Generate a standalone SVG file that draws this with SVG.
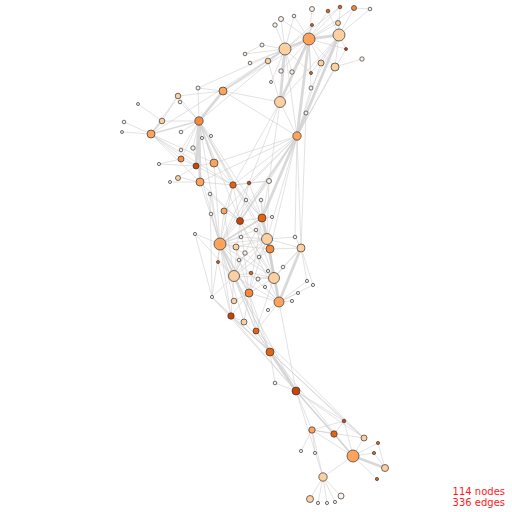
<svg xmlns="http://www.w3.org/2000/svg" width="512" height="512" viewBox="0 0 512 512">
<style>
.e{fill:none;stroke:#cfcfcf;stroke-opacity:0.75;stroke-width:0.8}
.em{fill:none;stroke:#cfcfcf;stroke-opacity:0.75;stroke-width:1.6}
.et{fill:none;stroke:#cfcfcf;stroke-opacity:0.8;stroke-width:2.8}
circle{stroke:#333;stroke-width:0.7}
.t{fill:#fdf1e6}
.l{fill:#fdd0a2}
.m{fill:#fda35c}
.o{fill:#f88a3a}
.d{fill:#e8620f}
.r{fill:#c94406}
text{font-family:"DejaVu Sans",Verdana,sans-serif;font-size:10px;fill:#ff1a1a;text-anchor:end}
</style>
<rect width="512" height="512" fill="#fff"/>
<g id="edges">
<path class="e" d="M312,9L309,39M328,11L309,39M328,11L339,35M340,7L339,35M340,7L309,39M340,7L285,49M354,8L339,35M354,8L309,39M354,8L370,9M370,9L339,35M294,16L285,49M294,16L309,39M281,19L285,49M281,19L309,39M275,25L285,49M338,23L339,35M338,23L309,39M312,25L309,39M312,25L285,49M262,45L285,49M245,54L285,49M250,63L285,49M268,61L285,49M268,61L280,102M346,49L339,35M346,49L309,39M321,63L309,39M321,63L339,35M335,67L339,35M335,67L309,39M335,67L362,59M335,67L297,136M281,71L285,49M292,72L285,49M292,72L309,39M311,73L309,39M311,73L285,49M271,82L285,49M311,88L309,39M311,88L339,35M311,88L297,136M306,113L339,35M306,113L297,136M280,102L297,136M280,102L223,91M285,49L198,88M285,49L151,134M285,49L199,121M309,39L223,91M339,35L280,102M339,35L311,73M285,49L297,136M321,63L297,136M346,49L297,136M280,102L269,181M280,102L233,185M280,102L249,183M262,45L245,54M309,39L281,71"/>
<path class="e" d="M198,88L223,91M198,88L199,121M178,96L223,91M178,96L199,121M178,96L151,134M178,96L162,121M180,102L199,121M138,104L162,121M162,121L199,121M124,122L151,134M122,132L151,134M151,134L181,159M151,134L196,166M151,134L200,182M151,134L214,163M181,132L199,121M211,136L199,121M202,138L199,121M193,148L199,121M193,148L220,244M181,150L199,121M181,159L199,121M181,159L196,166M196,166L214,163M196,166L233,185M214,163L199,121M214,163L233,185M214,163L220,244M159,164L196,166M159,164L181,159M178,177L200,182M178,177L196,166M170,182L200,182M200,182L233,185M200,182L220,244M200,182L240,221M223,91L297,136M199,121L233,185M199,121L220,244M199,121L240,221M199,121L262,218M297,136L233,185M297,136L214,163M297,136L200,182M297,136L220,244M297,136L267,239M297,136L249,183M297,136L269,181M297,136L224,211M297,136L301,248M297,136L295,237M297,136L270,249M306,113L301,248M199,121L267,239M199,121L270,249M151,134L233,185"/>
<path class="e" d="M233,185L249,183M233,185L269,181M233,185L240,221M233,185L220,244M233,185L262,218M233,185L224,211M249,183L269,181M249,183L240,221M249,183L262,218M269,181L262,218M269,181L267,239M210,194L220,244M210,194L240,221M246,200L262,218M246,200L220,244M261,200L262,218M261,200L267,239M224,211L220,244M224,211L240,221M211,214L220,244M240,221L220,244M240,221L262,218M240,221L267,239M240,221L234,276M240,221L249,293M262,218L220,244M262,218L270,249M262,218L234,276M272,217L262,218M256,230L267,239M256,230L220,244M195,234L220,244M195,234L234,276M241,237L220,244M241,237L267,239M220,244L236,247M220,244L267,239M220,244L270,249M220,244L274,278M220,244L279,302M220,244L245,253M220,244L218,262M220,244L231,316M220,244L212,297M220,244L244,322M220,244L256,331M236,247L267,239M267,239L270,249M267,239L301,248M267,239L295,237M267,239L234,276M267,239L279,302M267,239L249,293M270,249L301,248M270,249L274,278M270,249L279,302M270,249L234,276M295,237L301,248M301,248L307,281M301,248L313,285M301,248L274,278M301,248L283,267M245,253L234,276M239,260L234,276M239,260L267,239M259,257L274,278M259,257L267,239M283,267L274,278M234,276L274,278M234,276L231,316M234,276L279,302M234,276L256,331M251,273L234,276M251,273L274,278M268,271L274,278M274,278L279,302M274,278L249,293M274,278L256,331M258,279L274,278M258,279L249,293M307,281L279,302M313,285L279,302M265,287L279,302M249,293L279,302M249,293L231,316M249,293L244,322M249,293L256,331M298,293L279,302M234,301L249,293M234,301L220,244M212,297L234,276M212,297L231,316M292,301L279,302M279,302L268,310M279,302L256,331M279,302L296,391M231,316L244,322M231,316L270,352M231,316L296,391M244,322L270,352M256,331L270,352M256,331L296,391M220,244L270,352M234,276L270,352M234,276L296,391M212,297L296,391M249,293L270,352M240,221L274,278M262,218L249,293M210,194L212,297M195,234L212,297M218,262L234,276M218,262L231,316M240,221L279,302M249,183L220,244M269,181L240,221M224,211L234,276M256,230L274,278M245,253L274,278M236,247L249,293"/>
<path class="e" d="M270,352L275,383M275,383L296,391M296,391L344,421M296,391L312,430M296,391L334,434M296,391L364,438M270,352L353,456M296,391L323,477M256,331L364,438M212,297L344,421M231,316L364,438M344,421L312,430M344,421L334,434M344,421L353,456M344,421L364,438M312,430L334,434M312,430L353,456M312,430L364,438M312,430L301,451M312,430L315,453M312,430L323,477M334,434L353,456M364,438L353,456M378,443L353,456M378,443L385,468M374,453L353,456M374,453L385,468M353,456L377,479M353,456L323,477M323,477L310,499M323,477L318,503M323,477L327,503M323,477L335,502M323,477L341,496"/>
<path class="em" d="M285,49L223,91M199,121L151,134M151,134L162,121M199,121L214,163M297,136L240,221M220,244L234,276M220,244L249,293M267,239L274,278M296,391L353,456M220,244L262,218"/>
<path class="et" d="M309,39L280,102M309,39L297,136M339,35L297,136M285,49L280,102M309,39L339,35M309,39L285,49M199,121L223,91M199,121L196,166M199,121L200,182M297,136L262,218M270,352L296,391M353,456L385,468M279,302L301,248M262,218L267,239M267,239L279,302"/>
</g>
<g id="n1"><circle class="t" cx="312" cy="9" r="2.5"/></g>
<g id="n2"><circle class="d" cx="328" cy="11" r="1.8"/></g>
<g id="n3"><circle class="d" cx="340" cy="7" r="1.8"/></g>
<g id="n4"><circle class="o" cx="354" cy="8" r="2.5"/></g>
<g id="n5"><circle class="t" cx="370" cy="9" r="1.8"/></g>
<g id="n6"><circle class="t" cx="294" cy="16" r="1.8"/></g>
<g id="n7"><circle class="t" cx="281" cy="19" r="2.5"/></g>
<g id="n8"><circle class="t" cx="275" cy="25" r="2.2"/></g>
<g id="n9"><circle class="l" cx="338" cy="23" r="2.5"/></g>
<g id="n10"><circle class="m" cx="309" cy="39" r="6"/></g>
<g id="n11"><circle class="l" cx="339" cy="35" r="6"/></g>
<g id="n12"><circle class="l" cx="285" cy="49" r="6"/></g>
<g id="n13"><circle class="t" cx="262" cy="45" r="2"/></g>
<g id="n14"><circle class="d" cx="312" cy="25" r="1.5"/></g>
<g id="n15"><circle class="r" cx="346" cy="49" r="1.5"/></g>
<g id="n16"><circle class="t" cx="245" cy="54" r="1.8"/></g>
<g id="n17"><circle class="t" cx="250" cy="63" r="1.8"/></g>
<g id="n18"><circle class="l" cx="268" cy="61" r="2.8"/></g>
<g id="n19"><circle class="l" cx="321" cy="63" r="3"/></g>
<g id="n20"><circle class="l" cx="335" cy="67" r="4"/></g>
<g id="n21"><circle class="t" cx="362" cy="59" r="2.2"/></g>
<g id="n22"><circle class="t" cx="281" cy="71" r="2.2"/></g>
<g id="n23"><circle class="t" cx="292" cy="72" r="2.2"/></g>
<g id="n24"><circle class="d" cx="311" cy="73" r="1.5"/></g>
<g id="n25"><circle class="t" cx="271" cy="82" r="1.5"/></g>
<g id="n26"><circle class="t" cx="311" cy="88" r="2"/></g>
<g id="n27"><circle class="l" cx="280" cy="102" r="5.5"/></g>
<g id="n28"><circle class="t" cx="306" cy="113" r="2"/></g>
<g id="n29"><circle class="m" cx="297" cy="136" r="4.2"/></g>
<g id="n30"><circle class="t" cx="198" cy="88" r="2"/></g>
<g id="n31"><circle class="m" cx="223" cy="91" r="4"/></g>
<g id="n32"><circle class="l" cx="178" cy="96" r="2.8"/></g>
<g id="n33"><circle class="t" cx="180" cy="102" r="1.8"/></g>
<g id="n34"><circle class="t" cx="138" cy="104" r="1.5"/></g>
<g id="n35"><circle class="l" cx="162" cy="121" r="2.8"/></g>
<g id="n36"><circle class="o" cx="199" cy="121" r="4.2"/></g>
<g id="n37"><circle class="t" cx="124" cy="122" r="1.8"/></g>
<g id="n38"><circle class="t" cx="122" cy="132" r="1.5"/></g>
<g id="n39"><circle class="m" cx="151" cy="134" r="4"/></g>
<g id="n40"><circle class="t" cx="181" cy="132" r="1.8"/></g>
<g id="n41"><circle class="t" cx="211" cy="136" r="1.6"/></g>
<g id="n42"><circle class="t" cx="202" cy="138" r="1.6"/></g>
<g id="n43"><circle class="t" cx="193" cy="148" r="2.2"/></g>
<g id="n44"><circle class="t" cx="181" cy="150" r="1.8"/></g>
<g id="n45"><circle class="o" cx="181" cy="159" r="3"/></g>
<g id="n46"><circle class="r" cx="196" cy="166" r="3"/></g>
<g id="n47"><circle class="m" cx="214" cy="163" r="4"/></g>
<g id="n48"><circle class="t" cx="159" cy="164" r="1.6"/></g>
<g id="n49"><circle class="l" cx="178" cy="178" r="2.5"/></g>
<g id="n50"><circle class="t" cx="170" cy="182" r="1.5"/></g>
<g id="n51"><circle class="m" cx="200" cy="182" r="4"/></g>
<g id="n52"><circle class="d" cx="233" cy="185" r="3.2"/></g>
<g id="n53"><circle class="r" cx="249" cy="183" r="1.8"/></g>
<g id="n54"><circle class="t" cx="269" cy="181" r="2.5"/></g>
<g id="n55"><circle class="t" cx="210" cy="194" r="1.8"/></g>
<g id="n56"><circle class="t" cx="246" cy="200" r="1.8"/></g>
<g id="n57"><circle class="t" cx="261" cy="200" r="1.8"/></g>
<g id="n58"><circle class="m" cx="224" cy="211" r="3"/></g>
<g id="n59"><circle class="t" cx="211" cy="214" r="1.8"/></g>
<g id="n60"><circle class="r" cx="240" cy="221" r="3.5"/></g>
<g id="n61"><circle class="d" cx="262" cy="218" r="4"/></g>
<g id="n62"><circle class="t" cx="272" cy="217" r="1.6"/></g>
<g id="n63"><circle class="t" cx="256" cy="230" r="1.8"/></g>
<g id="n64"><circle class="t" cx="195" cy="234" r="1.6"/></g>
<g id="n65"><circle class="t" cx="241" cy="237" r="1.8"/></g>
<g id="n66"><circle class="m" cx="220" cy="244" r="6"/></g>
<g id="n67"><circle class="l" cx="236" cy="247" r="3"/></g>
<g id="n68"><circle class="l" cx="267" cy="239" r="5.5"/></g>
<g id="n69"><circle class="o" cx="270" cy="249" r="4"/></g>
<g id="n70"><circle class="t" cx="295" cy="237" r="1.8"/></g>
<g id="n71"><circle class="l" cx="301" cy="248" r="4"/></g>
<g id="n72"><circle class="t" cx="245" cy="253" r="2.2"/></g>
<g id="n73"><circle class="d" cx="218" cy="262" r="1.5"/></g>
<g id="n74"><circle class="t" cx="239" cy="260" r="1.8"/></g>
<g id="n75"><circle class="t" cx="259" cy="257" r="1.8"/></g>
<g id="n76"><circle class="t" cx="283" cy="267" r="1.8"/></g>
<g id="n77"><circle class="l" cx="234" cy="276" r="5.5"/></g>
<g id="n78"><circle class="d" cx="251" cy="273" r="1.8"/></g>
<g id="n79"><circle class="t" cx="268" cy="271" r="1.6"/></g>
<g id="n80"><circle class="l" cx="274" cy="278" r="5.5"/></g>
<g id="n81"><circle class="t" cx="258" cy="279" r="2"/></g>
<g id="n82"><circle class="t" cx="307" cy="281" r="1.6"/></g>
<g id="n83"><circle class="t" cx="313" cy="285" r="1.6"/></g>
<g id="n84"><circle class="t" cx="265" cy="287" r="1.6"/></g>
<g id="n85"><circle class="o" cx="249" cy="293" r="4"/></g>
<g id="n86"><circle class="t" cx="298" cy="293" r="1.6"/></g>
<g id="n87"><circle class="l" cx="234" cy="301" r="2.8"/></g>
<g id="n88"><circle class="t" cx="212" cy="297" r="1.6"/></g>
<g id="n89"><circle class="t" cx="292" cy="301" r="1.6"/></g>
<g id="n90"><circle class="m" cx="279" cy="302" r="5"/></g>
<g id="n91"><circle class="t" cx="268" cy="310" r="1.6"/></g>
<g id="n92"><circle class="r" cx="231" cy="316" r="3.2"/></g>
<g id="n93"><circle class="l" cx="244" cy="322" r="3"/></g>
<g id="n94"><circle class="d" cx="256" cy="331" r="3"/></g>
<g id="n95"><circle class="d" cx="270" cy="352" r="4"/></g>
<g id="n96"><circle class="t" cx="275" cy="383" r="1.8"/></g>
<g id="n97"><circle class="r" cx="296" cy="391" r="4"/></g>
<g id="n98"><circle class="r" cx="344" cy="421" r="1.8"/></g>
<g id="n99"><circle class="m" cx="312" cy="430" r="3.2"/></g>
<g id="n100"><circle class="d" cx="334" cy="434" r="3.2"/></g>
<g id="n101"><circle class="l" cx="364" cy="438" r="3"/></g>
<g id="n102"><circle class="d" cx="378" cy="443" r="1.6"/></g>
<g id="n103"><circle class="t" cx="301" cy="451" r="1.6"/></g>
<g id="n104"><circle class="t" cx="315" cy="453" r="1.6"/></g>
<g id="n105"><circle class="d" cx="374" cy="453" r="1.6"/></g>
<g id="n106"><circle class="m" cx="353" cy="456" r="6"/></g>
<g id="n107"><circle class="l" cx="385" cy="468" r="3.5"/></g>
<g id="n108"><circle class="d" cx="377" cy="479" r="1.6"/></g>
<g id="n109"><circle class="l" cx="323" cy="477" r="4.2"/></g>
<g id="n110"><circle class="l" cx="310" cy="499" r="3.5"/></g>
<g id="n111"><circle class="t" cx="318" cy="503" r="1.6"/></g>
<g id="n112"><circle class="t" cx="327" cy="503" r="1.6"/></g>
<g id="n113"><circle class="t" cx="335" cy="502" r="1.6"/></g>
<g id="n114"><circle class="t" cx="341" cy="496" r="3"/></g>
<g id="label"><text x="505" y="495">114 nodes</text><text x="505" y="506">336 edges</text></g>
</svg>
